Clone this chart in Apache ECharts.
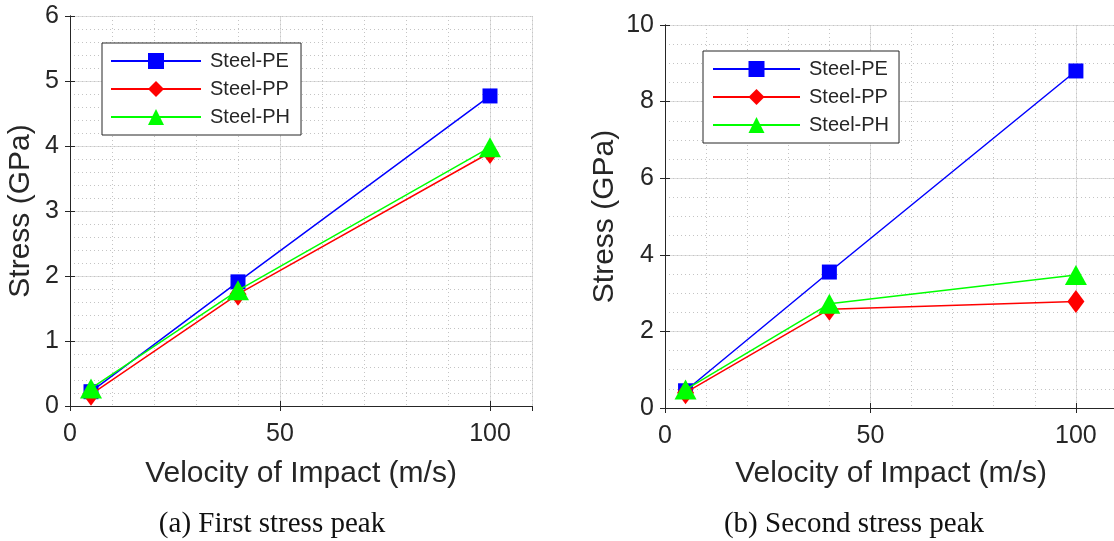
<!DOCTYPE html>
<html><head><meta charset="utf-8">
<script src="https://cdn.jsdelivr.net/npm/echarts@6/dist/echarts.min.js"></script>
<style>html,body{margin:0;padding:0;background:#fff;overflow:hidden}#c{width:1120px;height:541px}</style>
</head><body><div id="c"></div>
<script>
// ---- data ----
const velocity = [5, 40, 100];
const seriesNames = ['Steel-PE', 'Steel-PP', 'Steel-PH'];
const firstPeakPE = [0.22, 1.91, 4.77];
const firstPeakPP = [0.18, 1.72, 3.90];
const firstPeakPH = [0.27, 1.78, 3.98];
const secondPeakPE = [0.45, 3.55, 8.80];
const secondPeakPP = [0.40, 2.58, 2.78];
const secondPeakPH = [0.48, 2.72, 3.47];
const xTitle = 'Velocity of Impact (m/s)';
const yTitle = 'Stress (GPa)';
const captions = ['(a) First stress peak', '(b) Second stress peak'];

// ---- style ----
const TXT = '#262626';
const FONT = '"Liberation Sans", Arial, sans-serif';
const colors = ['#0000ff', '#ff0000', '#00ff00'];
const symbols = ['rect', 'diamond', 'triangle'];
const symbolSizes = [15, [17, 23], [22, 20]];

const panels = [
  { grid: {left: 70, top: 16, width: 462, height: 390}, xmax: 110, xint: 50, xminor: 10,
    ymax: 6, yint: 1, yminor: 0.2, yNameGap: 34, xNameGap: 53,
    data: [firstPeakPE, firstPeakPP, firstPeakPH],
    legend: {left: 102, top: 43, itemWidth: 90, padding: [8, 11, 8, 8]},
    caption: {x: 272, y: 524} },
  { grid: {left: 665, top: 25, width: 452, height: 383}, xmax: 110, xint: 50, xminor: 10,
    ymax: 10, yint: 2, yminor: 0.5, yNameGap: 45, xNameGap: 51,
    data: [secondPeakPE, secondPeakPP, secondPeakPH],
    legend: {left: 703, top: 51, itemWidth: 87, padding: [8, 10, 8, 9]},
    caption: {x: 854, y: 524} }
];

const grid = [], xAxis = [], yAxis = [], series = [], legend = [], graphic = [];
const majorSplit = {show: true, lineStyle: {color: '#dedede', width: 1}};
const minorSplit = {show: true, lineStyle: {color: '#c4c4c4', width: 1, type: [1, 3]}};
const lineAx = {show: true, lineStyle: {color: TXT, width: 1}};
const tickIn = {show: true, inside: true, length: 5, lineStyle: {color: TXT, width: 1}};

panels.forEach((p, i) => {
  grid.push(Object.assign({containLabel: false}, p.grid));
  const base = 3 * i;
  xAxis.push({
    gridIndex: i, type: 'value', position: 'bottom', min: 0, max: p.xmax, interval: p.xint,
    axisLine: lineAx, axisTick: tickIn, splitLine: majorSplit,
    axisLabel: {color: TXT, fontSize: 25, fontFamily: FONT, margin: 16, showMaxLabel: false},
    name: xTitle, nameLocation: 'middle', nameGap: p.xNameGap,
    nameTextStyle: {color: TXT, fontSize: 30, fontFamily: FONT}
  });
  xAxis.push({
    gridIndex: i, type: 'value', position: 'top', min: 0, max: p.xmax, interval: p.xint,
    axisLine: lineAx, axisTick: tickIn, splitLine: {show: false}, axisLabel: {show: false}
  });
  xAxis.push({
    gridIndex: i, type: 'value', position: 'bottom', min: 0, max: p.xmax, interval: p.xminor,
    axisLine: {show: false}, axisTick: {show: false}, axisLabel: {show: false}, splitLine: minorSplit
  });
  yAxis.push({
    gridIndex: i, type: 'value', position: 'left', min: 0, max: p.ymax, interval: p.yint,
    axisLine: lineAx, axisTick: tickIn, splitLine: majorSplit,
    axisLabel: {color: TXT, fontSize: 25, fontFamily: FONT, margin: 11},
    name: yTitle, nameLocation: 'middle', nameGap: p.yNameGap,
    nameTextStyle: {color: TXT, fontSize: 30, fontFamily: FONT}
  });
  yAxis.push({
    gridIndex: i, type: 'value', position: 'right', min: 0, max: p.ymax, interval: p.yint,
    axisLine: lineAx, axisTick: tickIn, splitLine: {show: false}, axisLabel: {show: false}
  });
  yAxis.push({
    gridIndex: i, type: 'value', position: 'left', min: 0, max: p.ymax, interval: p.yminor,
    axisLine: {show: false}, axisTick: {show: false}, axisLabel: {show: false}, splitLine: minorSplit
  });
  p.data.forEach((arr, j) => {
    series.push({
      type: 'line', name: seriesNames[j], xAxisIndex: base, yAxisIndex: base,
      data: velocity.map((v, k) => [v, arr[k]]),
      symbol: symbols[j], symbolSize: symbolSizes[j], showAllSymbol: true,
      itemStyle: {color: colors[j], opacity: 1},
      lineStyle: {color: colors[j], width: 1.5},
      z: 3 + j, animation: false
    });
  });
  legend.push({
    left: p.legend.left, top: p.legend.top, orient: 'vertical', data: seriesNames,
    itemWidth: p.legend.itemWidth, itemHeight: 20, itemGap: 8, padding: p.legend.padding,
    borderColor: TXT, borderWidth: 1, backgroundColor: '#ffffff', selectedMode: false,
    textStyle: {color: TXT, fontSize: 20, fontFamily: FONT, padding: [0, 0, 0, 4]}
  });
  graphic.push({
    type: 'text', x: p.caption.x, y: p.caption.y,
    style: {text: captions[i], font: '29px "Liberation Serif", "Times New Roman", serif',
            fill: '#111111', textAlign: 'center', textVerticalAlign: 'middle'}
  });
});

const chart = echarts.init(document.getElementById('c'), null, {renderer: 'canvas'});
chart.setOption({
  backgroundColor: '#ffffff', animation: false,
  grid, xAxis, yAxis, series, legend, graphic
});
</script>
</body></html>
